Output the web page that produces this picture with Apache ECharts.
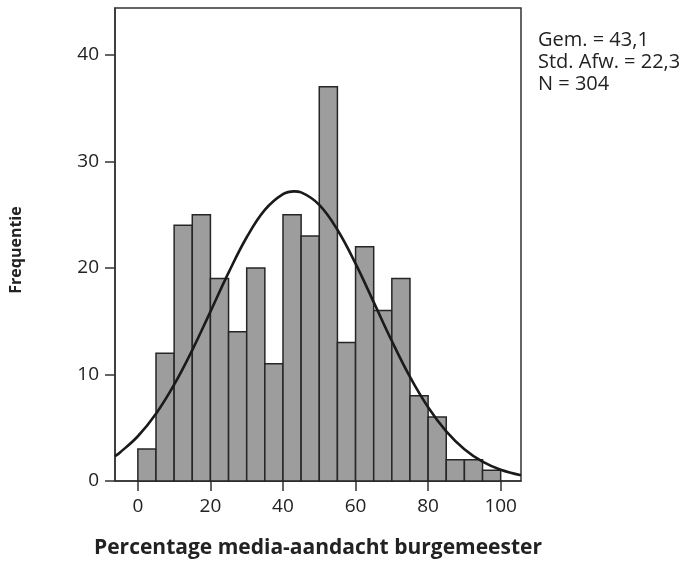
<!DOCTYPE html>
<html>
<head>
<meta charset="utf-8">
<script src="https://cdn.jsdelivr.net/npm/echarts@6/dist/echarts.min.js"></script>
<style>
html,body{margin:0;padding:0;background:#fff;}
#chart{width:689px;height:572px;}
</style>
</head>
<body>
<div id="chart"></div>
<script>
// Histogram bins (lower edge, width 5) and counts
const binStarts = [0,5,10,15,20,25,30,35,40,45,50,55,60,65,70,75,80,85,90,95];
const binWidth = 5;
const counts = [3,12,24,25,19,14,20,11,25,23,37,13,22,16,19,8,6,2,2,1];
// Fitted normal curve
const curveX = [-6.3,-5,0,5,10,15,20,25,30,35,40,43.1,45,50,55,60,65,70,75,80,85,90,95,100,105.6];
const curveY = [2.34,2.66,4.20,6.31,9.04,12.29,15.90,19.56,22.88,25.45,26.93,27.19,27.09,25.92,23.58,20.40,16.79,13.14,9.77,6.92,4.65,2.98,1.81,1.05,0.54];
const xTicks = [0,20,40,60,80,100];
const yTicks = [0,10,20,30,40];
const statsLines = ['Gem. = 43,1','Std. Afw. = 22,3','N = 304'];
const xTitle = 'Percentage media-aandacht burgemeester';
const yTitle = 'Frequentie';

const FONT = '"Open Sans", "Noto Sans", sans-serif';
const histData = binStarts.map((s,i)=>[s, s+binWidth, counts[i]]);
const curveData = curveX.map((x,i)=>[x, curveY[i]]);

const chart = echarts.init(document.getElementById('chart'), null, {renderer:'canvas'});
chart.setOption({
  animation:false,
  backgroundColor:'#fff',
  grid:{left:115, top:8, right:168, bottom:91, show:true, borderColor:'#333', borderWidth:1.5, backgroundColor:'transparent'},
  xAxis:{
    type:'value', min:-6.3, max:105.6,
    axisLine:{show:true, onZero:false, lineStyle:{color:'#333', width:1.5}},
    axisTick:{show:true, length:10, lineStyle:{color:'#333', width:1.5}, customValues:xTicks},
    axisLabel:{color:'#222', fontSize:19, fontFamily:FONT, margin:16, customValues:xTicks},
    splitLine:{show:false}
  },
  yAxis:{
    type:'value', min:0, max:44.4,
    axisLine:{show:true, onZero:false, lineStyle:{color:'#333', width:1.5}},
    axisTick:{show:true, length:10, lineStyle:{color:'#333', width:1.5}, customValues:yTicks},
    axisLabel:{color:'#222', fontSize:19, fontFamily:FONT, margin:16, customValues:yTicks},
    splitLine:{show:false}
  },
  series:[
    {
      type:'custom',
      data:histData,
      encode:{x:[0,1], y:2},
      renderItem:function(params, api){
        const p0 = api.coord([api.value(0), api.value(2)]);
        const p1 = api.coord([api.value(1), 0]);
        return {
          type:'rect',
          shape:{x:p0[0], y:p0[1], width:p1[0]-p0[0], height:p1[1]-p0[1]},
          style:{fill:'#9c9d9c', stroke:'#262626', lineWidth:1.5}
        };
      },
      z:2
    },
    {
      type:'line',
      data:curveData,
      smooth:0.4,
      showSymbol:false,
      lineStyle:{color:'#1a1a1a', width:2.6},
      z:3
    }
  ],
  graphic:[
    {type:'text', left:538, top:29, style:{text:statsLines.join('\n'), font:'20px '+FONT, fill:'#222', lineHeight:22}},
    {type:'text', x:318, y:548, style:{text:xTitle, font:'bold 21px '+FONT, fill:'#222', align:'center', verticalAlign:'middle'}},
    {type:'text', x:16, y:250, rotation:Math.PI/2, style:{text:yTitle, font:'bold 16px '+FONT, fill:'#222', align:'center', verticalAlign:'middle'}}
  ]
});
</script>
</body>
</html>
